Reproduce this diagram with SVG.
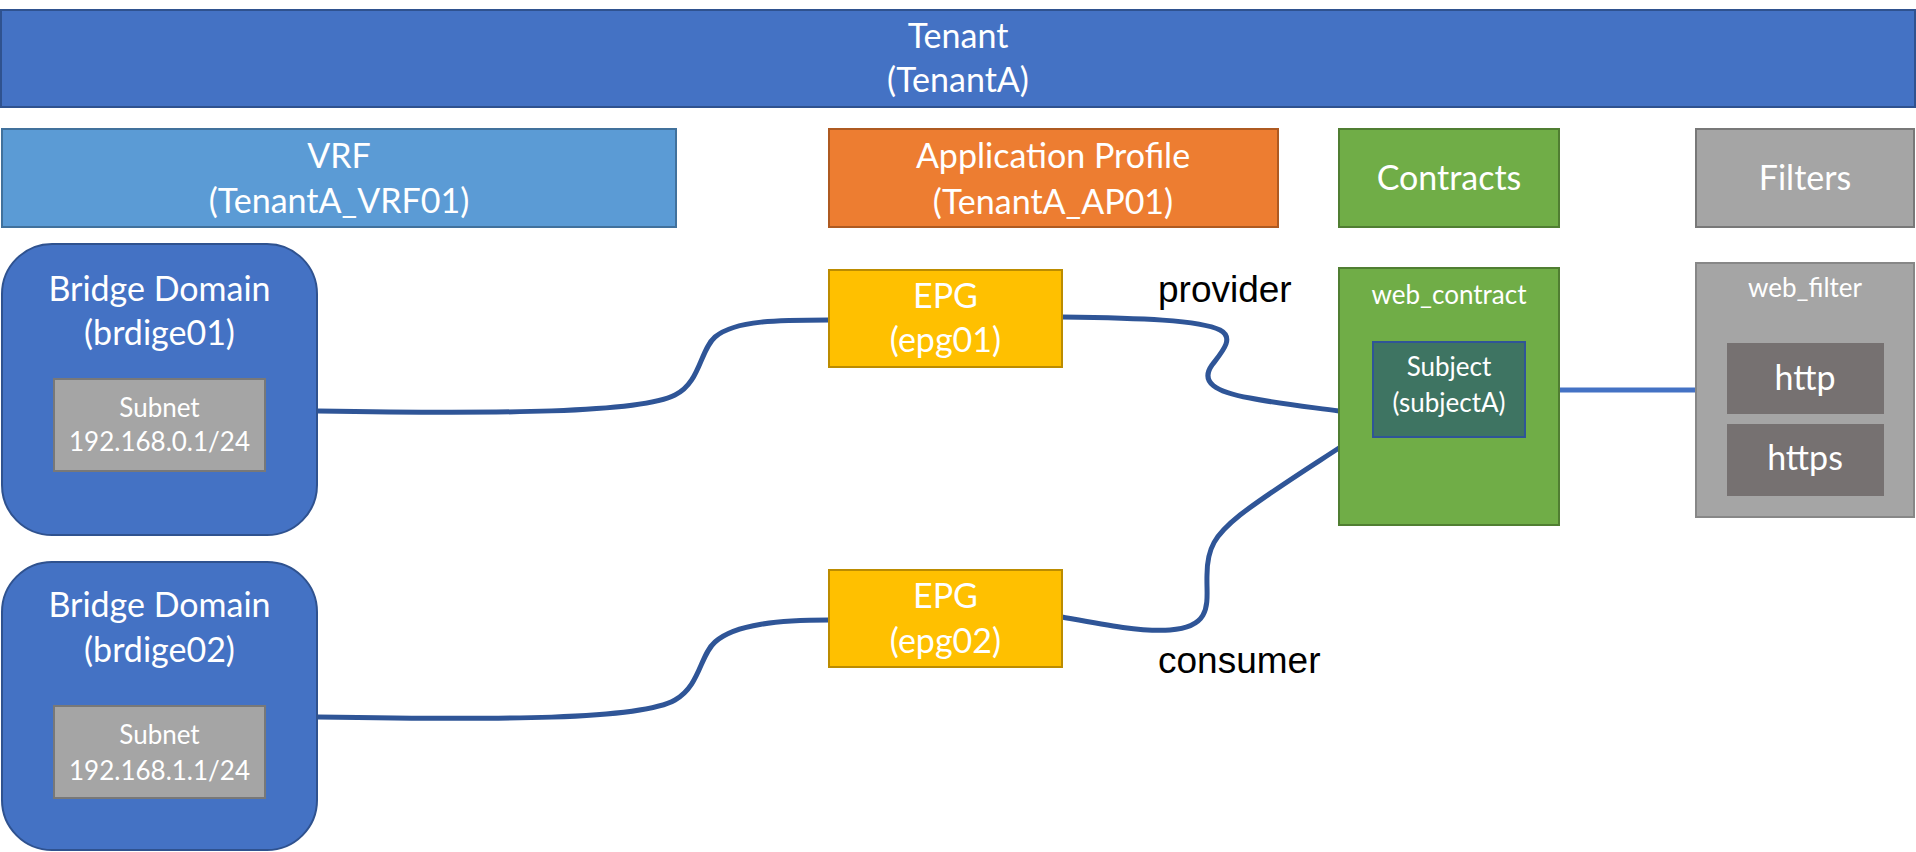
<svg xmlns="http://www.w3.org/2000/svg" width="1916" height="852" viewBox="0 0 1916 852">
<style>
.t{font-family:Lato,"Liberation Sans",sans-serif;fill:#fff;text-anchor:middle}
.big{font-size:34px}
.mid{font-size:26px}
.lbl{font-family:"Liberation Sans",Arial,sans-serif;font-size:37px;fill:#000}
.conn{fill:none;stroke:#2F5597;stroke-width:5;stroke-linecap:round}
</style>
<rect width="1916" height="852" fill="#fff"/>
<g id="tenant">
<rect x="1" y="10" width="1914" height="97" fill="#4472C4" stroke="#2F528F" stroke-width="2"/>
<text class="t big" x="958" y="48">Tenant</text>
<text class="t big" x="958" y="92">(TenantA)</text>
</g>
<g id="vrf">
<rect x="2" y="129" width="674" height="98" fill="#5B9BD5" stroke="#41719C" stroke-width="2"/>
<text class="t big" x="339" y="168">VRF</text>
<text class="t big" x="339" y="213">(TenantA_VRF01)</text>
</g>
<g id="app-profile">
<rect x="829" y="129" width="449" height="98" fill="#ED7D31" stroke="#AE5A21" stroke-width="2"/>
<text class="t big" x="1053" y="168">Application Profile</text>
<text class="t big" x="1053" y="214">(TenantA_AP01)</text>
</g>
<g id="contracts">
<rect x="1339" y="129" width="220" height="98" fill="#70AD47" stroke="#507E32" stroke-width="2"/>
<text class="t big" x="1449" y="190">Contracts</text>
</g>
<g id="filters">
<rect x="1696" y="129" width="218" height="98" fill="#A5A5A5" stroke="#787878" stroke-width="2"/>
<text class="t big" x="1805" y="190">Filters</text>
</g>
<g id="connectors">
<path class="conn" d="M318,411 C500,414 640,413 675,395 C700,383 700,350 715,337 C735,320 780,320 829,320"/>
<path class="conn" d="M318,717 C500,720 640,720 675,700 C700,686 700,655 715,642 C735,624 780,620 829,620"/>
<path class="conn" d="M1062,317 C1140,318 1200,320 1220,330 C1235,338 1222,352 1212,365 C1200,382 1215,392 1250,398 C1280,404 1310,407 1339,411"/>
<path class="conn" d="M1062,617 C1100,624 1140,632 1170,630 C1215,627 1206,600 1207,575 C1207,548 1215,535 1240,515 C1270,492 1310,467 1339,448"/>
<line x1="1525" y1="390" x2="1696" y2="390" stroke="#4472C4" stroke-width="5"/>
</g>
<g id="bd1">
<rect x="2" y="244" width="315" height="291" rx="50" ry="50" fill="#4472C4" stroke="#2F528F" stroke-width="2"/>
<text class="t big" x="159.5" y="301">Bridge Domain</text>
<text class="t big" x="159.5" y="345">(brdige01)</text>
</g>
<g id="subnet1">
<rect x="54" y="379" width="211" height="92" fill="#A5A5A5" stroke="#787878" stroke-width="2"/>
<text class="t mid" x="159.5" y="417">Subnet</text>
<text class="t mid" x="159.5" y="451">192.168.0.1/24</text>
</g>
<g id="bd2">
<rect x="2" y="562" width="315" height="288" rx="50" ry="50" fill="#4472C4" stroke="#2F528F" stroke-width="2"/>
<text class="t big" x="159.5" y="617">Bridge Domain</text>
<text class="t big" x="159.5" y="662">(brdige02)</text>
</g>
<g id="subnet2">
<rect x="54" y="706" width="211" height="92" fill="#A5A5A5" stroke="#787878" stroke-width="2"/>
<text class="t mid" x="159.5" y="744">Subnet</text>
<text class="t mid" x="159.5" y="780">192.168.1.1/24</text>
</g>
<g id="epg1">
<rect x="829" y="270" width="233" height="97" fill="#FFC000" stroke="#BC8C00" stroke-width="2"/>
<text class="t big" x="945.5" y="308">EPG</text>
<text class="t big" x="945.5" y="352">(epg01)</text>
</g>
<g id="epg2">
<rect x="829" y="570" width="233" height="97" fill="#FFC000" stroke="#BC8C00" stroke-width="2"/>
<text class="t big" x="945.5" y="608">EPG</text>
<text class="t big" x="945.5" y="653">(epg02)</text>
</g>
<g id="labels">
<text class="lbl" x="1158" y="302">provider</text>
<text class="lbl" x="1158" y="673">consumer</text>
</g>
<g id="web-contract">
<rect x="1339" y="268" width="220" height="257" fill="#70AD47" stroke="#507E32" stroke-width="2"/>
<text class="t mid" x="1449" y="304">web_contract</text>
</g>
<g id="subject">
<rect x="1373" y="342" width="152" height="95" fill="#3E7462" stroke="#2F5597" stroke-width="2"/>
<text class="t mid" x="1449" y="376">Subject</text>
<text class="t mid" x="1449" y="412">(subjectA)</text>
</g>
<g id="web-filter">
<rect x="1696" y="263" width="218" height="254" fill="#A5A5A5" stroke="#878787" stroke-width="2"/>
<text class="t mid" x="1805" y="297">web_filter</text>
</g>
<g id="http">
<rect x="1727" y="343" width="157" height="71" fill="#767171"/>
<text class="t big" x="1805" y="390">http</text>
</g>
<g id="https">
<rect x="1727" y="424" width="157" height="72" fill="#767171"/>
<text class="t big" x="1805" y="470">https</text>
</g>
</svg>
